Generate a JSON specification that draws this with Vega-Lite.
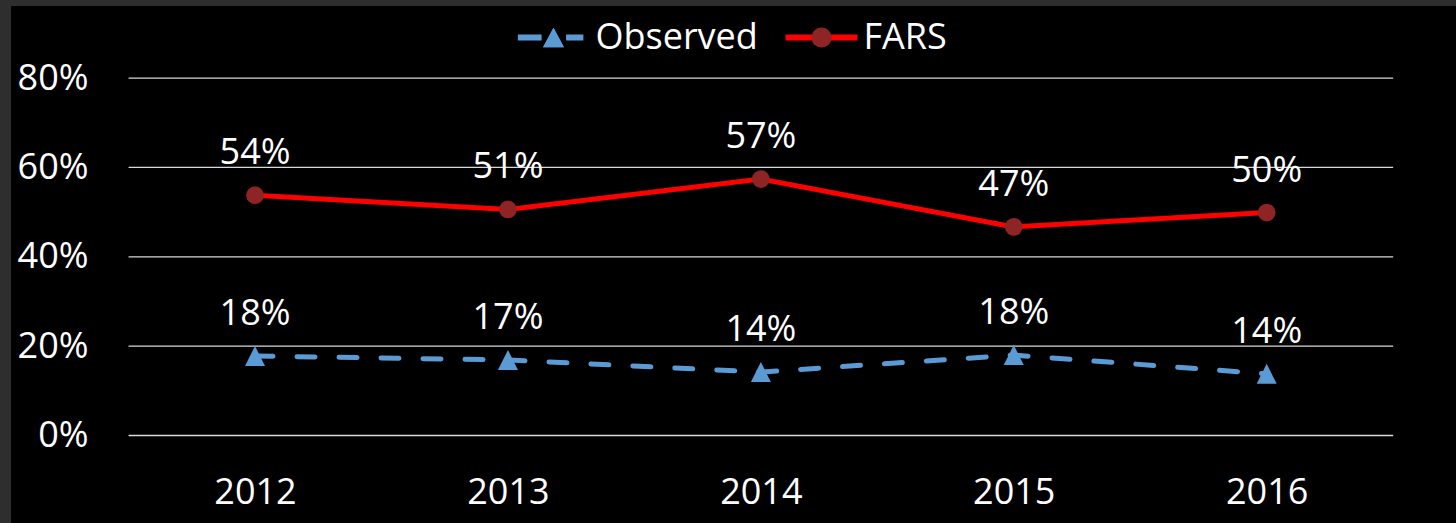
{
  "$schema": "https://vega.github.io/schema/vega-lite/v6.json",
  "width": 1445,
  "height": 517,
  "autosize": "none",
  "padding": {"left": 11, "top": 6, "right": 0, "bottom": 0},
  "background": "#2e2e2e",
  "config": {"view": {"fill": "#000000", "stroke": null}, "font": "Open Sans"},
  "data": {
    "values": [
      {"year": 2012, "series": "Observed", "value": 0.178},
      {"year": 2013, "series": "Observed", "value": 0.169},
      {"year": 2014, "series": "Observed", "value": 0.142},
      {"year": 2015, "series": "Observed", "value": 0.180},
      {"year": 2016, "series": "Observed", "value": 0.138},
      {"year": 2012, "series": "FARS", "value": 0.538},
      {"year": 2013, "series": "FARS", "value": 0.506},
      {"year": 2014, "series": "FARS", "value": 0.574},
      {"year": 2015, "series": "FARS", "value": 0.467},
      {"year": 2016, "series": "FARS", "value": 0.499}
    ]
  },
  "layer": [
    {
      "data": {"values": [{"level": 0}, {"level": 0.2}, {"level": 0.4}, {"level": 0.6}, {"level": 0.8}]},
      "mark": {"type": "rule", "stroke": "#d9d9d9", "strokeWidth": 1.3},
      "encoding": {
        "y": {
          "field": "level",
          "type": "quantitative",
          "scale": {"domain": [-0.1959, 0.9614], "nice": false, "zero": false},
          "axis": {
            "values": [0, 0.2, 0.4, 0.6, 0.8],
            "format": ".0%",
            "title": null,
            "ticks": false,
            "domain": false,
            "grid": false,
            "labelPadding": 0,
            "offset": -77,
            "labelFontSize": 36,
            "labelColor": "#ffffff",
            "labelFont": "Open Sans",
            "labelFlush": false,
            "labelOverlap": false
          }
        },
        "x": {
          "datum": 2011.5,
          "type": "quantitative",
          "scale": {"domain": [2011.0352, 2016.7485], "nice": false, "zero": false},
          "axis": {
            "values": [2012, 2013, 2014, 2015, 2016],
            "format": "d",
            "title": null,
            "ticks": false,
            "domain": false,
            "grid": false,
            "labelPadding": 0,
            "offset": -31,
            "labelBaseline": "middle",
            "labelFontSize": 36,
            "labelColor": "#ffffff",
            "labelFont": "Open Sans",
            "labelFlush": false,
            "labelOverlap": false
          }
        },
        "x2": {"datum": 2016.5}
      }
    },
    {
      "encoding": {
        "x": {
          "field": "year",
          "type": "quantitative",
          "scale": {"domain": [2011.0352, 2016.7485], "nice": false, "zero": false},
          "axis": {
            "values": [2012, 2013, 2014, 2015, 2016],
            "format": "d",
            "title": null,
            "ticks": false,
            "domain": false,
            "grid": false,
            "labelPadding": 0,
            "offset": -31,
            "labelBaseline": "middle",
            "labelFontSize": 36,
            "labelColor": "#ffffff",
            "labelFont": "Open Sans",
            "labelFlush": false,
            "labelOverlap": false
          }
        },
        "y": {
          "field": "value",
          "type": "quantitative",
          "scale": {"domain": [-0.1959, 0.9614], "nice": false, "zero": false},
          "axis": {
            "values": [0, 0.2, 0.4, 0.6, 0.8],
            "format": ".0%",
            "title": null,
            "ticks": false,
            "domain": false,
            "grid": false,
            "labelPadding": 0,
            "offset": -77,
            "labelFontSize": 36,
            "labelColor": "#ffffff",
            "labelFont": "Open Sans",
            "labelFlush": false,
            "labelOverlap": false
          }
        }
      },
      "layer": [
        {
          "transform": [{"filter": "datum.series === 'FARS'"}],
          "mark": {"type": "line", "stroke": "#ff0000", "strokeWidth": 5, "strokeCap": "round"}
        },
        {
          "transform": [{"filter": "datum.series === 'Observed'"}],
          "mark": {"type": "line", "stroke": "#5b9bd5", "strokeWidth": 5, "strokeCap": "round", "strokeDash": [18, 24]}
        },
        {
          "transform": [{"filter": "datum.series === 'FARS'"}],
          "mark": {"type": "point", "shape": "circle", "size": 314, "filled": true, "fill": "#8e2424", "opacity": 1, "strokeWidth": 0}
        },
        {
          "transform": [{"filter": "datum.series === 'Observed'"}],
          "mark": {"type": "point", "shape": "M0,-1 L1,1 L-1,1 Z", "size": 400, "filled": true, "fill": "#5b9bd5", "opacity": 1, "strokeWidth": 0}
        },
        {
          "mark": {"type": "text", "color": "#ffffff", "fontSize": 36, "font": "Open Sans", "baseline": "middle", "dy": -42},
          "encoding": {"text": {"field": "value", "type": "quantitative", "format": ".0%"}}
        },
        {
          "transform": [{"filter": "false"}],
          "mark": {"type": "point", "filled": true, "opacity": 1, "strokeWidth": 0},
          "encoding": {
            "shape": {
              "field": "series",
              "type": "nominal",
              "scale": {
                "domain": ["Observed", "FARS"],
                "range": [
                  "M-0.99,-0.085 L-0.33,-0.085 L-0.33,0.085 L-0.99,0.085 Z M0,-0.27 L0.29,0.27 L-0.29,0.27 Z M0.35,-0.085 L0.83,-0.085 L0.83,0.085 L0.35,0.085 Z",
                  "M-1,-0.085 L1,-0.085 L1,0.085 L-1,0.085 Z"
                ]
              },
              "legend": {"orient": "none", "legendX": 506.5, "legendY": -4.5, "direction": "horizontal", "title": null, "symbolSize": 5184, "symbolStrokeWidth": 0, "labelFontSize": 36, "labelFont": "Open Sans", "labelColor": "#ffffff", "labelOffset": 6, "columnPadding": 27, "labelLimit": 0}
            },
            "color": {
              "field": "series",
              "type": "nominal",
              "scale": {"domain": ["Observed", "FARS"], "range": ["#5b9bd5", "#ff0000"]},
              "legend": {"orient": "none", "legendX": 506.5, "legendY": -4.5, "direction": "horizontal", "title": null, "symbolSize": 5184, "symbolStrokeWidth": 0, "labelFontSize": 36, "labelFont": "Open Sans", "labelColor": "#ffffff", "labelOffset": 6, "columnPadding": 27, "labelLimit": 0}
            }
          }
        },
        {
          "transform": [{"filter": "false"}],
          "mark": {"type": "point", "filled": true, "opacity": 1, "strokeWidth": 0},
          "encoding": {
            "shape": {
              "field": "series",
              "type": "nominal",
              "scale": {
                "domain": ["Observed", "FARS"],
                "range": [
                  "M0,-0.27 L0.29,0.27 L-0.29,0.27 Z",
                  "M-0.28,0 A0.28,0.28 0 1 0 0.28,0 A0.28,0.28 0 1 0 -0.28,0 Z"
                ]
              },
              "legend": {"orient": "none", "legendX": 506.5, "legendY": -4.5, "direction": "horizontal", "title": null, "symbolSize": 5184, "symbolStrokeWidth": 0, "labelFontSize": 36, "labelFont": "Open Sans", "labelColor": "rgba(0,0,0,0)", "labelOffset": 6, "columnPadding": 27, "labelLimit": 0}
            },
            "color": {
              "field": "series",
              "type": "nominal",
              "scale": {"domain": ["Observed", "FARS"], "range": ["#5b9bd5", "#8e2424"]},
              "legend": {"orient": "none", "legendX": 506.5, "legendY": -4.5, "direction": "horizontal", "title": null, "symbolSize": 5184, "symbolStrokeWidth": 0, "labelFontSize": 36, "labelFont": "Open Sans", "labelColor": "rgba(0,0,0,0)", "labelOffset": 6, "columnPadding": 27, "labelLimit": 0}
            }
          }
        }
      ],
      "resolve": {
        "scale": {"color": "independent", "shape": "independent"},
        "legend": {"color": "independent", "shape": "independent"}
      }
    }
  ]
}
